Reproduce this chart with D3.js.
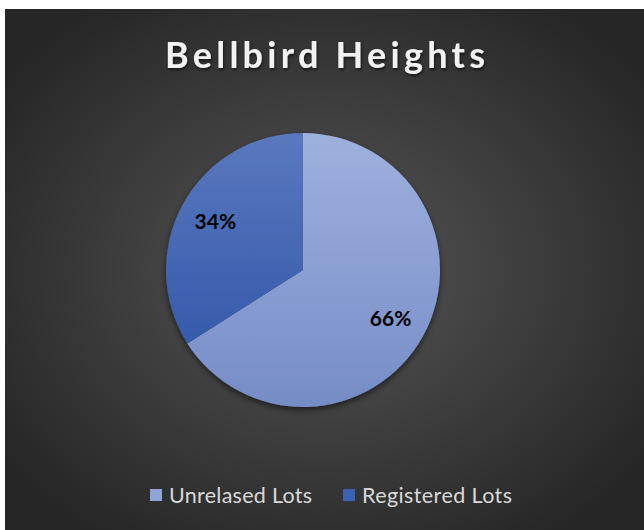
<!DOCTYPE html>
<html>
<head>
    <meta charset="utf-8">
    <title>Bellbird Heights</title>
    <script src="https://d3js.org/d3.v7.min.js"></script>
    <style>
        html, body { margin: 0; padding: 0; background: white; }
        svg { display: block; }
        text { font-family: Lato, "Open Sans", sans-serif; }
    </style>
</head>
<body>
    <div id="chart"></div>
    <script>
        // Data
        const categories = ["Unrelased Lots", "Registered Lots"];
        const shares = [66, 34];
        const labels = ["66%", "34%"];

        const W = 644, H = 530;
        const cx = 303, cy = 270, radius = 137;

        const svg = d3.select("#chart").append("svg")
            .attr("width", W)
            .attr("height", H);

        const defs = svg.append("defs");

        // background radial gradient
        const bg = defs.append("radialGradient").attr("id", "bg")
            .attr("cx", "50%").attr("cy", "50%").attr("r", "62%");
        bg.append("stop").attr("offset", "0%").attr("stop-color", "#565656");
        bg.append("stop").attr("offset", "100%").attr("stop-color", "#262626");

        // slice gradients (vertical, over the whole pie)
        const sliceStops = [
            ["#9eb1de", "#768cc6"],
            ["#5a78be", "#2a52a6"]
        ];
        sliceStops.forEach((s, i) => {
            const g = defs.append("linearGradient").attr("id", "slice" + i)
                .attr("gradientUnits", "userSpaceOnUse")
                .attr("x1", 0).attr("y1", -radius).attr("x2", 0).attr("y2", radius);
            g.append("stop").attr("offset", "0%").attr("stop-color", s[0]);
            g.append("stop").attr("offset", "100%").attr("stop-color", s[1]);
        });

        const shadow = defs.append("filter").attr("id", "shadow")
            .attr("x", "-20%").attr("y", "-20%").attr("width", "140%").attr("height", "140%");
        shadow.append("feDropShadow").attr("dx", 0).attr("dy", 3).attr("stdDeviation", 3)
            .attr("flood-color", "#000").attr("flood-opacity", 0.55);

        const tshadow = defs.append("filter").attr("id", "tshadow");
        tshadow.append("feDropShadow").attr("dx", 1).attr("dy", 2).attr("stdDeviation", 1.5)
            .attr("flood-color", "#000").attr("flood-opacity", 0.6);

        svg.append("rect")
            .attr("x", 5).attr("y", 9)
            .attr("width", W - 5).attr("height", H - 9)
            .attr("fill", "url(#bg)");

        // title
        svg.append("text")
            .attr("x", 325).attr("y", 68)
            .attr("text-anchor", "middle")
            .attr("fill", "#f2f2f2")
            .attr("font-size", "36px")
            .attr("font-weight", "bold")
            .attr("textLength", 320)
            .attr("lengthAdjust", "spacing")
            .attr("filter", "url(#tshadow)")
            .text("Bellbird Heights");

        // pie
        const pie = d3.pie().sort(null).value(d => d);
        const arcs = pie(shares);
        const arc = d3.arc().innerRadius(0).outerRadius(radius);
        const labelArc = d3.arc().innerRadius(radius * 0.73).outerRadius(radius * 0.73);

        const g = svg.append("g")
            .attr("transform", `translate(${cx},${cy})`);

        const slices = g.append("g").attr("filter", "url(#shadow)");
        slices.selectAll("path")
            .data(arcs)
            .enter()
            .append("path")
            .attr("d", arc)
            .attr("fill", (d, i) => `url(#slice${i})`);

        g.selectAll(".lbl")
            .data(arcs)
            .enter()
            .append("text")
            .attr("class", "lbl")
            .attr("transform", d => `translate(${labelArc.centroid(d)})`)
            .attr("text-anchor", "middle")
            .attr("dy", "0.35em")
            .attr("font-size", "21px")
            .attr("font-weight", "bold")
            .attr("fill", "#000")
            .text((d, i) => labels[i]);

        // legend
        const legendColors = ["#8ea3d6", "#3a61b4"];
        const legendX = [150, 343];
        const legendW = [143, 150];
        const legend = svg.append("g");
        categories.forEach((c, i) => {
            const e = legend.append("g")
                .attr("transform", `translate(${legendX[i]},495)`);
            e.append("rect")
                .attr("x", 0).attr("y", -6)
                .attr("width", 12).attr("height", 12)
                .attr("fill", legendColors[i]);
            e.append("text")
                .attr("x", 19).attr("y", 0)
                .attr("dy", "0.36em")
                .attr("font-size", "21.5px")
                .attr("textLength", legendW[i])
                .attr("lengthAdjust", "spacing")
                .attr("fill", "#d9d9d9")
                .text(c);
        });
    </script>
</body>
</html>
